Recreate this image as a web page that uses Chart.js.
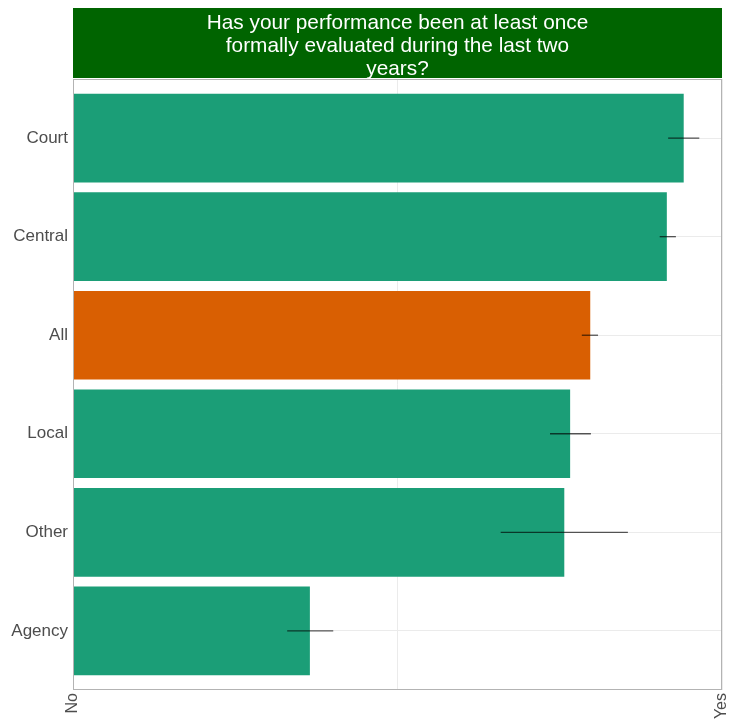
<!DOCTYPE html>
<html>
<head>
<meta charset="utf-8">
<script src="https://cdn.jsdelivr.net/npm/chart.js@4"></script>
<style>
  body { margin: 0; background: #fff; }
  canvas { display: block; }
</style>
</head>
<body>
<canvas id="eval-chart" width="730" height="724"></canvas>
<script>
// Data
const categories = ['Court', 'Central', 'All', 'Local', 'Other', 'Agency'];
const shares = [0.941, 0.915, 0.797, 0.766, 0.757, 0.365];
const errLow = [0.917, 0.904, 0.784, 0.735, 0.659, 0.330];
const errHigh = [0.965, 0.929, 0.809, 0.798, 0.855, 0.401];
const xTickValues = [0, 0.5, 1];
const xTickLabels = ['No', '', 'Yes'];
const titleLines = [
    'Has your performance been at least once',
    'formally evaluated during the last two',
    'years?'
];

const GREEN = '#1b9e77';
const ORANGE = '#d95f02';
const FONT = '"Liberation Sans", Arial, sans-serif';

// Dark green strip with the question, above the panel
const stripPlugin = {
    id: 'strip',
    beforeDraw(chart) {
        const { ctx, chartArea } = chart;
        ctx.save();
        ctx.fillStyle = '#006400';
        ctx.fillRect(chartArea.left, 8, chartArea.right - chartArea.left, 70);
        ctx.fillStyle = '#ffffff';
        ctx.font = '20.8px ' + FONT;
        ctx.textAlign = 'center';
        ctx.textBaseline = 'alphabetic';
        const cx = (chartArea.left + chartArea.right) / 2;
        titleLines.forEach((line, i) => {
            ctx.fillText(line, cx, 29 + i * 23);
        });
        ctx.restore();
    }
};

// Error bars and the panel border
const errorBarPlugin = {
    id: 'errorBars',
    afterDatasetsDraw(chart) {
        const { ctx, chartArea, scales } = chart;
        ctx.save();
        ctx.strokeStyle = 'rgba(0, 0, 0, 0.65)';
        ctx.lineWidth = 1.3;
        categories.forEach((_, i) => {
            const y = scales.y.getPixelForValue(i);
            ctx.beginPath();
            ctx.moveTo(scales.x.getPixelForValue(errLow[i]), y);
            ctx.lineTo(scales.x.getPixelForValue(errHigh[i]), y);
            ctx.stroke();
        });
        ctx.strokeStyle = '#b3b3b3';
        ctx.lineWidth = 1;
        ctx.strokeRect(chartArea.left + 0.5, chartArea.top + 0.5,
            chartArea.right - chartArea.left - 1, chartArea.bottom - chartArea.top - 1);
        ctx.restore();
    }
};

const ctx = document.getElementById('eval-chart').getContext('2d');

new Chart(ctx, {
    type: 'bar',
    data: {
        datasets: [{
            data: shares.map((v, i) => ({ x: v, y: i })),
            backgroundColor: categories.map(c => c === 'All' ? ORANGE : GREEN),
            borderWidth: 0,
            barPercentage: 0.9,
            categoryPercentage: 1
        }]
    },
    options: {
        indexAxis: 'y',
        responsive: false,
        animation: false,
        layout: {
            padding: { top: 79, right: 8, bottom: 0, left: 0 }
        },
        plugins: {
            legend: { display: false },
            tooltip: { enabled: false },
            title: { display: false }
        },
        scales: {
            x: {
                type: 'linear',
                min: 0,
                max: 1,
                afterBuildTicks: (scale) => {
                    scale.ticks = xTickValues.map(v => ({ value: v }));
                },
                afterFit: (scale) => {
                    scale.height = 34;
                    scale.paddingLeft = 0;
                    scale.paddingRight = 0;
                },
                ticks: {
                    autoSkip: false,
                    minRotation: 90,
                    maxRotation: 90,
                    padding: 3,
                    color: '#4d4d4d',
                    font: { family: FONT, size: 16 },
                    callback: (value) => xTickLabels[xTickValues.indexOf(value)] ?? ''
                },
                grid: {
                    color: '#ebebeb',
                    drawTicks: false
                },
                border: { display: false }
            },
            y: {
                type: 'linear',
                min: -0.6,
                max: categories.length - 0.4,
                reverse: true,
                offset: false,
                afterBuildTicks: (scale) => {
                    scale.ticks = categories.map((_, i) => ({ value: i }));
                },
                afterFit: (scale) => {
                    scale.width = 73;
                    scale.paddingTop = 0;
                    scale.paddingBottom = 0;
                },
                ticks: {
                    autoSkip: false,
                    padding: 5,
                    color: '#4d4d4d',
                    font: { family: FONT, size: 17 },
                    callback: (value) => categories[value] ?? ''
                },
                grid: {
                    color: '#ebebeb',
                    offset: false,
                    drawTicks: false
                },
                border: { display: false }
            }
        }
    },
    plugins: [stripPlugin, errorBarPlugin]
});
</script>
</body>
</html>
